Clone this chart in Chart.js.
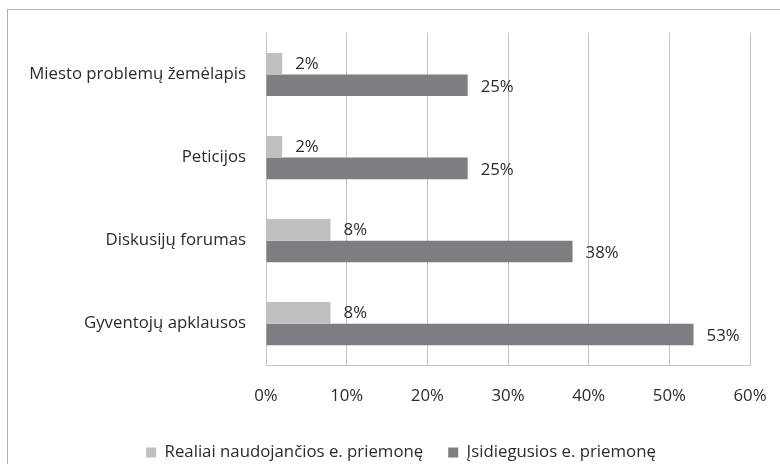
<!DOCTYPE html>
<html>
<head>
<meta charset="utf-8">
<script src="https://cdn.jsdelivr.net/npm/chart.js@4"></script>
<style>
html,body{margin:0;padding:0;background:#fff;}
#wrap{width:780px;height:464px;position:relative;}
</style>
</head>
<body>
<div id="wrap"><canvas id="c" width="780" height="464"></canvas></div>
<script>
const categories = ["Miesto problemų žemėlapis", "Peticijos", "Diskusijų forumas", "Gyventojų apklausos"];
const seriesNames = ["Realiai naudojančios e. priemonę", "Įsidiegusios e. priemonę"];
const realiai = [2, 2, 8, 8];
const isidiegusios = [25, 25, 38, 53];
const xTicks = [0, 10, 20, 30, 40, 50, 60];

const FONT = "Open Sans";
const FS = 16.8;
const TXT = "#2b2b2b";

const frame = {
  id: 'frame',
  beforeDraw(chart) {
    const ctx = chart.ctx;
    ctx.save();
    ctx.fillStyle = '#fff';
    ctx.fillRect(0, 0, chart.width, chart.height);
    ctx.strokeStyle = '#b0b0b0';
    ctx.lineWidth = 1;
    ctx.strokeRect(7.5, 9.5, 800, 500);
    ctx.restore();
  }
};

const legendShift = {
  id: 'legendShift',
  afterLayout(chart) {
    const lg = chart.legend;
    if (lg) { lg.left = 52; lg.right = 750; }
  }
};

const valueLabels = {
  id: 'valueLabels',
  afterDatasetsDraw(chart) {
    const ctx = chart.ctx;
    ctx.save();
    ctx.font = FS + "px '" + FONT + "'";
    ctx.fillStyle = TXT;
    ctx.textAlign = 'left';
    ctx.textBaseline = 'middle';
    chart.data.datasets.forEach((ds, i) => {
      const meta = chart.getDatasetMeta(i);
      meta.data.forEach((bar, j) => {
        ctx.fillText(ds.data[j] + '%', bar.x + 13, bar.y + (i === 1 ? 2 : 0));
      });
    });
    ctx.restore();
  }
};

new Chart(document.getElementById('c'), {
  type: 'bar',
  data: {
    labels: categories,
    datasets: [
      { label: seriesNames[0], data: realiai, backgroundColor: '#c0c0c2' },
      { label: seriesNames[1], data: isidiegusios, backgroundColor: '#7d7e81' }
    ]
  },
  options: {
    indexAxis: 'y',
    responsive: false,
    animation: false,
    devicePixelRatio: 1,
    datasets: { bar: { categoryPercentage: 0.52, barPercentage: 1.0 } },
    layout: { padding: { left: 0, right: 30, top: 33, bottom: -7 } },
    scales: {
      x: {
        min: 0, max: 60,
        afterBuildTicks(scale) { scale.ticks = xTicks.map(v => ({ value: v })); },
        afterFit(scale) { scale.height = 54; scale.paddingLeft = 0; scale.paddingRight = 0; },
        grid: { color: '#c4c4c4', drawTicks: false, lineWidth: 1 },
        border: { color: '#c4c4c4' },
        ticks: { padding: 21, color: TXT, font: { family: FONT, size: FS }, callback: v => v + '%' }
      },
      y: {
        afterFit(scale) { scale.width = 266; scale.paddingTop = 0; scale.paddingBottom = 0; },
        grid: { display: false, drawTicks: false },
        border: { color: '#c4c4c4' },
        ticks: { padding: 20, color: TXT, font: { family: FONT, size: FS } }
      }
    },
    plugins: {
      legend: {
        position: 'bottom',
        labels: { boxWidth: 10, boxHeight: 10, padding: 25, color: TXT, font: { family: FONT, size: FS } }
      },
      tooltip: { enabled: false }
    }
  },
  plugins: [frame, legendShift, valueLabels]
});
</script>
</body>
</html>
